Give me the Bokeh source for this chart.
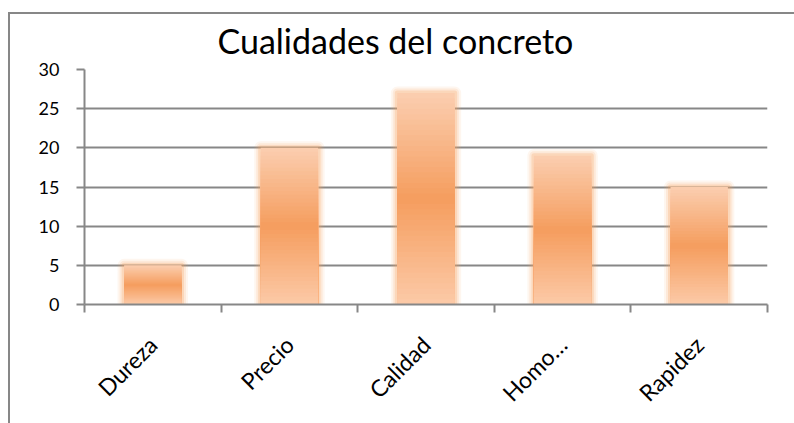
from bokeh.plotting import figure
from bokeh.models import Range1d, FixedTicker, Title
from bokeh.embed import file_html
from bokeh.resources import INLINE
import math

# Survey results: qualities of concrete
categories = ["Dureza", "Precio", "Calidad", "Homo…", "Rapidez"]
values = [5, 20, 27, 19, 15]
y_ticks = [0, 5, 10, 15, 20, 25, 30]

GRAY = "#878787"
FONT = "Lato"
BAR_W = 0.42

# vertical gradient stops for the bar fill (relative height -> rgb)
stops = [(0.0, (252, 202, 168)), (0.5, (245, 157, 94)), (1.0, (251, 206, 176))]


def grad_color(t):
    for (t0, c0), (t1, c1) in zip(stops[:-1], stops[1:]):
        if t0 <= t <= t1:
            f = (t - t0) / (t1 - t0)
            r, g, b = (round(a + (bb - a) * f) for a, bb in zip(c0, c1))
            return "#%02x%02x%02x" % (r, g, b)
    return "#%02x%02x%02x" % stops[-1][1]


p = figure(
    width=794, height=423,
    x_range=Range1d(0, len(categories)), y_range=Range1d(0, 30),
    output_backend="svg", toolbar_location=None,
    min_border_left=84, min_border_right=27, min_border_top=69, min_border_bottom=119,
    margin=0,
)
# chart-area border drawn behind a transparent canvas
p.styles = {
    "background": (
        f"linear-gradient({GRAY}, {GRAY}) 9px 12px / 800px 2px no-repeat, "
        f"linear-gradient({GRAY}, {GRAY}) 8px 12px / 2px 420px no-repeat, white"
    )
}
p.outline_line_color = None
p.background_fill_color = "white"
p.border_fill_color = None

# title
p.title = Title(text="Cualidades del concreto", align="left", offset=133,
                text_font=FONT, text_font_size="34px", text_font_style="normal",
                text_color="black", standoff=17)

xs = [i + 0.5 for i in range(len(categories))]

# soft glow around each bar
for lw, alpha in [(13, 0.10), (9, 0.15), (5, 0.25)]:
    p.vbar(x=xs, top=values, bottom=0, width=BAR_W, fill_color=None,
           line_color="#f7a35e", line_width=lw, line_alpha=alpha, line_join="round")

# gradient fill: nested bars from tallest to shortest
N = 40
for k in range(N):
    frac = (N - k) / N
    t = (N - k - 0.5) / N
    p.vbar(x=xs, top=[v * frac for v in values], bottom=0, width=BAR_W,
           fill_color=grad_color(t), line_color=None)

# grid
p.xgrid.visible = False
p.ygrid.grid_line_color = GRAY
p.ygrid.grid_line_width = 2
p.ygrid.ticker = FixedTicker(ticks=y_ticks)

# y axis
ya = p.yaxis[0]
ya.ticker = FixedTicker(ticks=y_ticks)
ya.axis_line_color = GRAY
ya.axis_line_width = 2
ya.major_tick_line_color = GRAY
ya.major_tick_line_width = 2
ya.major_tick_in = 0
ya.major_tick_out = 8
ya.minor_tick_line_color = None
ya.major_label_text_font = FONT
ya.major_label_text_font_size = "18px"
ya.major_label_text_color = "black"
ya.major_label_standoff = 17

# x axis: labels at category centres, ticks at category boundaries
xa = p.xaxis[0]
xa.ticker = FixedTicker(ticks=xs, minor_ticks=list(range(len(categories) + 1)))
xa.major_label_overrides = {x: c for x, c in zip(xs, categories)}
xa.axis_line_color = GRAY
xa.axis_line_width = 2
xa.major_tick_line_color = None
xa.minor_tick_line_color = GRAY
xa.minor_tick_line_width = 2
xa.minor_tick_in = 0
xa.minor_tick_out = 8
xa.major_label_orientation = math.pi / 4
xa.major_label_text_font = FONT
xa.major_label_text_font_size = "23px"
xa.major_label_text_color = "black"
xa.major_label_standoff = 28

open("out.html", "w").write(file_html(p, INLINE))
